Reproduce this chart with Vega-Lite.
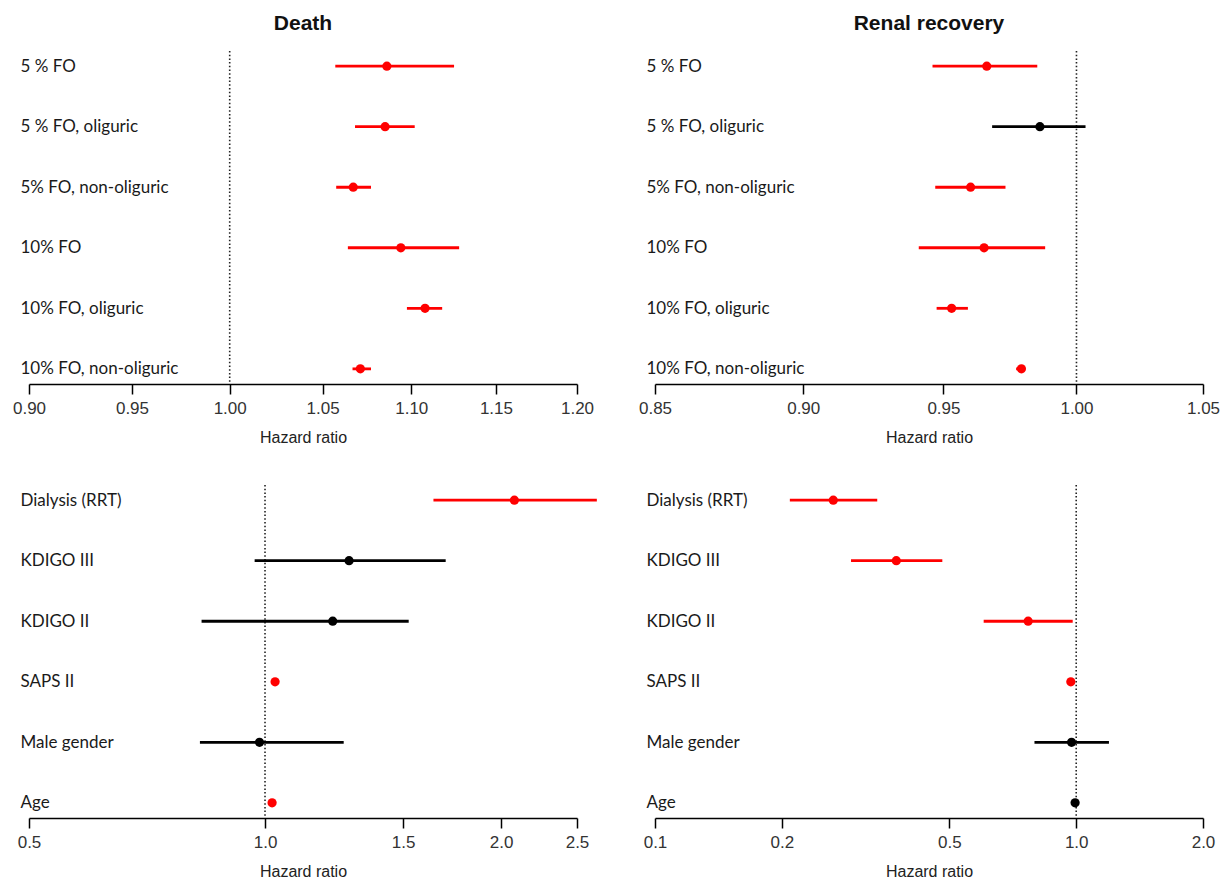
{
  "$schema": "https://vega.github.io/schema/vega-lite/v6.json",
  "autosize": {"type": "pad"},
  "padding": {"left": 12, "top": 13, "right": 5, "bottom": 5},
  "background": "white",
  "config": {
    "view": {"stroke": null},
    "axis": {"grid": false},
    "axisX": {
      "domain": true, "domainColor": "#000000", "domainWidth": 1.5,
      "ticks": true, "tickColor": "#000000", "tickWidth": 1.5, "tickSize": 10,
      "labelFont": "Liberation Sans", "labelFontSize": 17, "labelColor": "#333333", "labelPadding": 6,
      "labelFlush": false, "labelOverlap": false,
      "titleFont": "Liberation Sans", "titleFontSize": 16, "titleFontWeight": "normal", "titleColor": "#222222", "titlePadding": 13
    },
    "axisY": {
      "domain": false, "ticks": false, "labelAlign": "left", "labelPadding": 9,
      "labelFont": "Lato", "labelFontSize": 17, "labelColor": "#1a1a1a", "labelLimit": 400, "title": null
    }
  },
  "data": {"values": [
    {"panel": "death_fo", "label": "5 % FO", "hr": 1.086, "lo": 1.057, "hi": 1.125, "sig": "yes"},
    {"panel": "death_fo", "label": "5 % FO, oliguric", "hr": 1.085, "lo": 1.068, "hi": 1.102, "sig": "yes"},
    {"panel": "death_fo", "label": "5% FO, non-oliguric", "hr": 1.067, "lo": 1.0575, "hi": 1.077, "sig": "yes"},
    {"panel": "death_fo", "label": "10% FO", "hr": 1.094, "lo": 1.064, "hi": 1.128, "sig": "yes"},
    {"panel": "death_fo", "label": "10% FO, oliguric", "hr": 1.108, "lo": 1.0975, "hi": 1.118, "sig": "yes"},
    {"panel": "death_fo", "label": "10% FO, non-oliguric", "hr": 1.071, "lo": 1.0666, "hi": 1.077, "sig": "yes"},
    {"panel": "renal_fo", "label": "5 % FO", "hr": 0.966, "lo": 0.946, "hi": 0.985, "sig": "yes"},
    {"panel": "renal_fo", "label": "5 % FO, oliguric", "hr": 0.986, "lo": 0.968, "hi": 1.0035, "sig": "no"},
    {"panel": "renal_fo", "label": "5% FO, non-oliguric", "hr": 0.960, "lo": 0.947, "hi": 0.973, "sig": "yes"},
    {"panel": "renal_fo", "label": "10% FO", "hr": 0.965, "lo": 0.941, "hi": 0.988, "sig": "yes"},
    {"panel": "renal_fo", "label": "10% FO, oliguric", "hr": 0.953, "lo": 0.9475, "hi": 0.959, "sig": "yes"},
    {"panel": "renal_fo", "label": "10% FO, non-oliguric", "hr": 0.979, "lo": 0.977, "hi": 0.980, "sig": "yes"},
    {"panel": "death_risk", "label": "Dialysis (RRT)", "hr": 2.08, "lo": 1.64, "hi": 2.65, "sig": "yes"},
    {"panel": "death_risk", "label": "KDIGO III", "hr": 1.28, "lo": 0.97, "hi": 1.70, "sig": "no"},
    {"panel": "death_risk", "label": "KDIGO II", "hr": 1.22, "lo": 0.83, "hi": 1.525, "sig": "no"},
    {"panel": "death_risk", "label": "SAPS II", "hr": 1.03, "lo": 1.025, "hi": 1.037, "sig": "yes"},
    {"panel": "death_risk", "label": "Male gender", "hr": 0.984, "lo": 0.826, "hi": 1.26, "sig": "no"},
    {"panel": "death_risk", "label": "Age", "hr": 1.021, "lo": 1.015, "hi": 1.028, "sig": "yes"},
    {"panel": "renal_risk", "label": "Dialysis (RRT)", "hr": 0.265, "lo": 0.209, "hi": 0.337, "sig": "yes"},
    {"panel": "renal_risk", "label": "KDIGO III", "hr": 0.374, "lo": 0.292, "hi": 0.481, "sig": "yes"},
    {"panel": "renal_risk", "label": "KDIGO II", "hr": 0.769, "lo": 0.603, "hi": 0.981, "sig": "yes"},
    {"panel": "renal_risk", "label": "SAPS II", "hr": 0.971, "lo": 0.965, "hi": 0.977, "sig": "yes"},
    {"panel": "renal_risk", "label": "Male gender", "hr": 0.975, "lo": 0.796, "hi": 1.196, "sig": "no"},
    {"panel": "renal_risk", "label": "Age", "hr": 0.994, "lo": 0.988, "hi": 1.001, "sig": "no"}
  ]},
  "bounds": "flush",
  "columns": 2,
  "spacing": {"row": 101, "column": 78},
  "resolve": {"scale": {"x": "independent", "y": "independent", "color": "independent"}},
  "concat": [
    {
      "width": 548, "height": 333,
      "title": {"text": "Death", "font": "Liberation Sans", "fontSize": 21, "fontWeight": "bold", "color": "#111111", "anchor": "middle", "offset": 16},
      "transform": [{"filter": "datum.panel === 'death_fo'"}],
      "layer": [
        {"data": {"values": [{"ref": 1}]}, "mark": {"type": "rule", "strokeDash": [1.5, 2.2], "strokeWidth": 1.6, "color": "#222222"},
         "encoding": {"x": {"field": "ref", "type": "quantitative", "title": "Hazard ratio"}}},
        {"mark": {"type": "rule", "strokeWidth": 2.8},
         "encoding": {
           "x": {"field": "lo", "type": "quantitative", "title": "Hazard ratio", "scale": {"type": "log", "domain": [0.9, 1.2], "nice": false}, "axis": {"values": [0.9, 0.95, 1, 1.05, 1.1, 1.15, 1.2], "format": ".2f"}},
           "x2": {"field": "hi"},
           "y": {"field": "label", "type": "nominal", "sort": null, "scale": {"type": "point", "padding": 0.25}},
           "color": {"field": "sig", "type": "nominal", "scale": {"domain": ["yes", "no"], "range": ["#ff0000", "#000000"]}, "legend": null}}},
        {"mark": {"type": "circle", "size": 85, "opacity": 1},
         "encoding": {
           "x": {"field": "hr", "type": "quantitative", "title": "Hazard ratio"},
           "y": {"field": "label", "type": "nominal", "sort": null},
           "color": {"field": "sig", "type": "nominal", "legend": null}}}
      ]
    },
    {
      "width": 548, "height": 333,
      "title": {"text": "Renal recovery", "font": "Liberation Sans", "fontSize": 21, "fontWeight": "bold", "color": "#111111", "anchor": "middle", "offset": 16},
      "transform": [{"filter": "datum.panel === 'renal_fo'"}],
      "layer": [
        {"data": {"values": [{"ref": 1}]}, "mark": {"type": "rule", "strokeDash": [1.5, 2.2], "strokeWidth": 1.6, "color": "#222222"},
         "encoding": {"x": {"field": "ref", "type": "quantitative", "title": "Hazard ratio"}}},
        {"mark": {"type": "rule", "strokeWidth": 2.8},
         "encoding": {
           "x": {"field": "lo", "type": "quantitative", "title": "Hazard ratio", "scale": {"type": "log", "domain": [0.85, 1.05], "nice": false}, "axis": {"values": [0.85, 0.9, 0.95, 1, 1.05], "format": ".2f"}},
           "x2": {"field": "hi"},
           "y": {"field": "label", "type": "nominal", "sort": null, "scale": {"type": "point", "padding": 0.25}},
           "color": {"field": "sig", "type": "nominal", "scale": {"domain": ["yes", "no"], "range": ["#ff0000", "#000000"]}, "legend": null}}},
        {"mark": {"type": "circle", "size": 85, "opacity": 1},
         "encoding": {
           "x": {"field": "hr", "type": "quantitative", "title": "Hazard ratio"},
           "y": {"field": "label", "type": "nominal", "sort": null},
           "color": {"field": "sig", "type": "nominal", "legend": null}}}
      ]
    },
    {
      "width": 548, "height": 333,
      "transform": [{"filter": "datum.panel === 'death_risk'"}],
      "layer": [
        {"data": {"values": [{"ref": 1}]}, "mark": {"type": "rule", "strokeDash": [1.5, 2.2], "strokeWidth": 1.6, "color": "#222222"},
         "encoding": {"x": {"field": "ref", "type": "quantitative", "title": "Hazard ratio"}}},
        {"mark": {"type": "rule", "strokeWidth": 2.8},
         "encoding": {
           "x": {"field": "lo", "type": "quantitative", "title": "Hazard ratio", "scale": {"type": "log", "domain": [0.5, 2.5], "nice": false}, "axis": {"values": [0.5, 1, 1.5, 2, 2.5], "format": ".1f"}},
           "x2": {"field": "hi"},
           "y": {"field": "label", "type": "nominal", "sort": null, "scale": {"type": "point", "padding": 0.25}},
           "color": {"field": "sig", "type": "nominal", "scale": {"domain": ["yes", "no"], "range": ["#ff0000", "#000000"]}, "legend": null}}},
        {"mark": {"type": "circle", "size": 85, "opacity": 1},
         "encoding": {
           "x": {"field": "hr", "type": "quantitative", "title": "Hazard ratio"},
           "y": {"field": "label", "type": "nominal", "sort": null},
           "color": {"field": "sig", "type": "nominal", "legend": null}}}
      ]
    },
    {
      "width": 548, "height": 333,
      "transform": [{"filter": "datum.panel === 'renal_risk'"}],
      "layer": [
        {"data": {"values": [{"ref": 1}]}, "mark": {"type": "rule", "strokeDash": [1.5, 2.2], "strokeWidth": 1.6, "color": "#222222"},
         "encoding": {"x": {"field": "ref", "type": "quantitative", "title": "Hazard ratio"}}},
        {"mark": {"type": "rule", "strokeWidth": 2.8},
         "encoding": {
           "x": {"field": "lo", "type": "quantitative", "title": "Hazard ratio", "scale": {"type": "log", "domain": [0.1, 2], "nice": false}, "axis": {"values": [0.1, 0.2, 0.5, 1, 2], "format": ".1f"}},
           "x2": {"field": "hi"},
           "y": {"field": "label", "type": "nominal", "sort": null, "scale": {"type": "point", "padding": 0.25}},
           "color": {"field": "sig", "type": "nominal", "scale": {"domain": ["yes", "no"], "range": ["#ff0000", "#000000"]}, "legend": null}}},
        {"mark": {"type": "circle", "size": 85, "opacity": 1},
         "encoding": {
           "x": {"field": "hr", "type": "quantitative", "title": "Hazard ratio"},
           "y": {"field": "label", "type": "nominal", "sort": null},
           "color": {"field": "sig", "type": "nominal", "legend": null}}}
      ]
    }
  ]
}
